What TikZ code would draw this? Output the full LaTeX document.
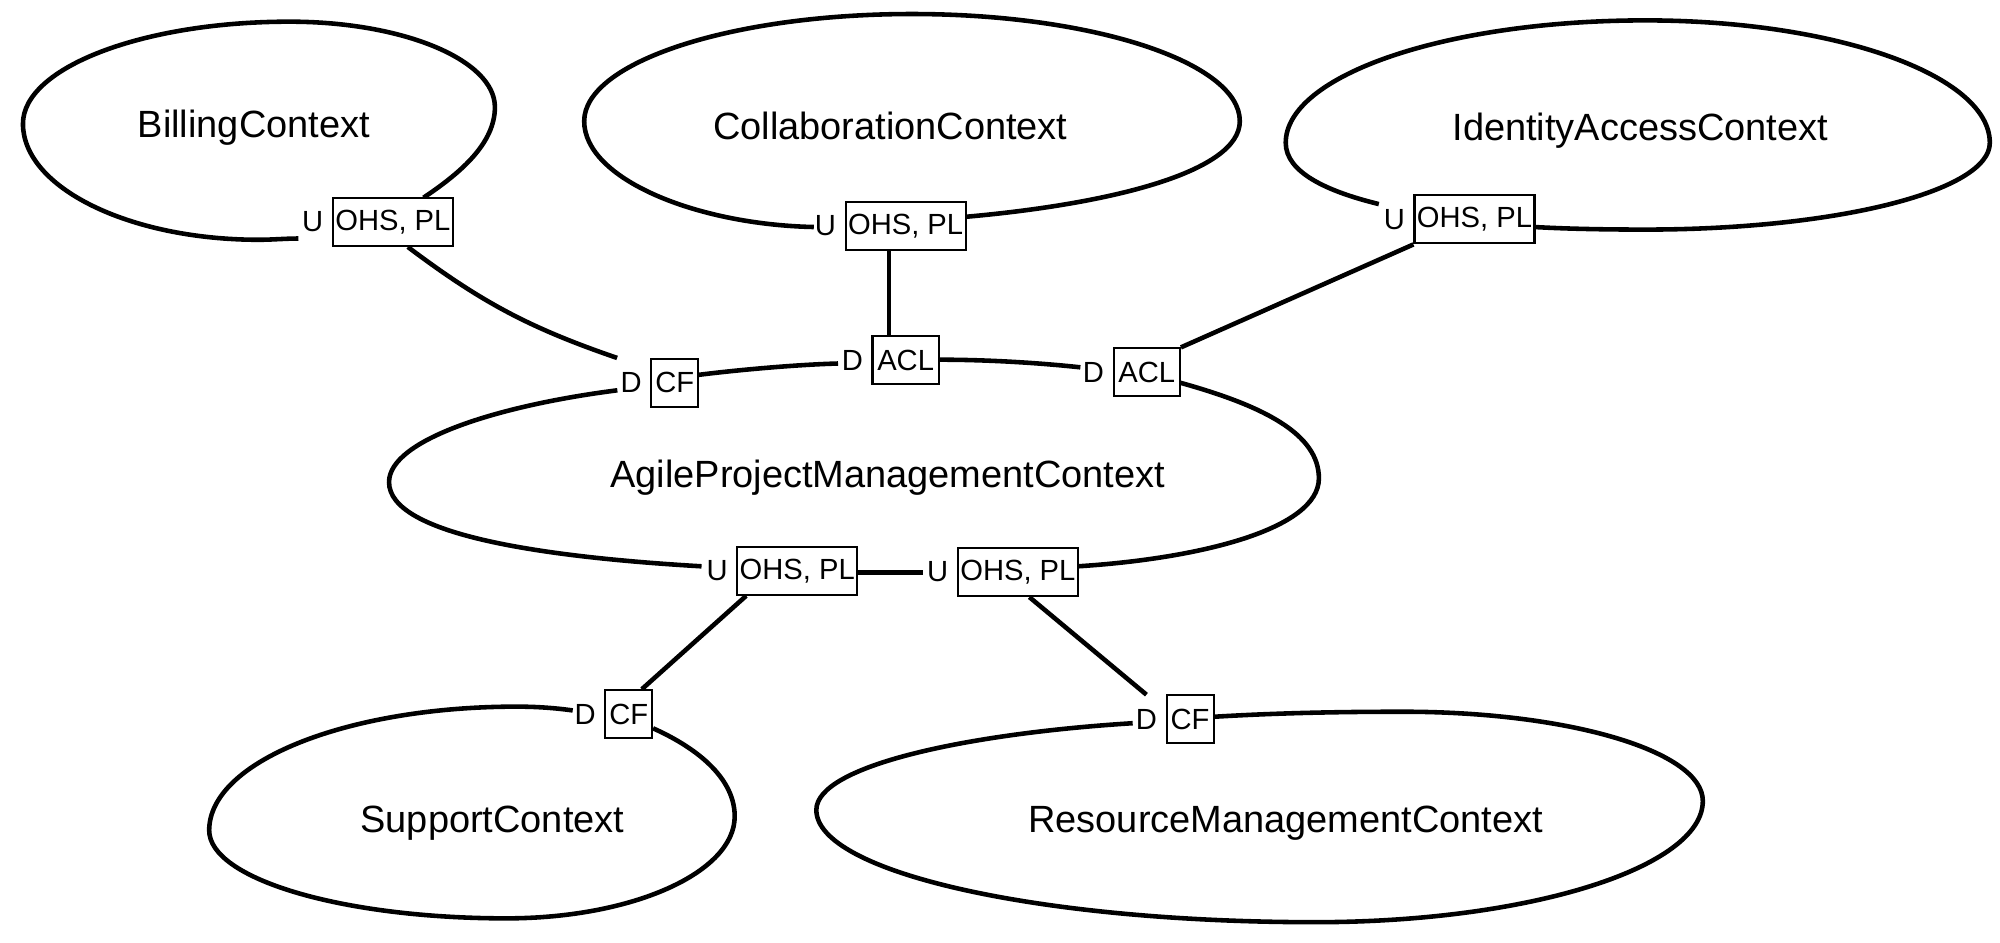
\documentclass[tikz,border=0pt]{standalone}
\usepackage{fontspec}
\setmainfont{Liberation Sans}
\usetikzlibrary{positioning}
\begin{document}
\begin{tikzpicture}[x=0.012755cm,y=-0.012755cm,
  ctx/.style={anchor=base,font=\fontsize{10.8}{13}\selectfont,inner sep=0pt},
  rel/.style={draw,line width=0.6pt,fill=white,font=\fontsize{8.3}{10}\selectfont,minimum height=0.48cm,inner xsep=0.6pt,inner ysep=0pt},
  side/.style={font=\fontsize{8.3}{10}\selectfont,minimum height=0.48cm,inner xsep=0.8pt,inner ysep=0pt},
  edge/.style={line width=1.3pt},
  outline/.style={line width=1.3pt}]
\useasboundingbox (0,0) rectangle (1568,739);

% context names
\node[ctx] (billing) at (199,108) {BillingContext};
\node[ctx] (collab) at (698,109) {CollaborationContext};
\node[ctx] (identity) at (1286,110) {IdentityAccessContext};
\node[ctx] (agile) at (696,382) {AgileProjectManagementContext};
\node[ctx] (support) at (386,653) {SupportContext};
\node[ctx] (resource) at (1008,653) {ResourceManagementContext};

% context outlines
\draw[outline] (332,155) .. controls (362,135) and (388,112) .. (388,84)
  .. controls (388,47) and (316,17) .. (227,17)
  .. controls (112,17) and (18,53) .. (18,97)
  .. controls (18,147) and (101,188) .. (203,188)
  .. controls (213,188) and (224,187) .. (234,187);
\draw[outline] (757,170) .. controls (870,160) and (972,135) .. (972,95)
  .. controls (972,49) and (857,11) .. (715,11)
  .. controls (573,11) and (458,49) .. (458,95)
  .. controls (458,140) and (545,176) .. (638,178);
\draw[outline] (1203,178) .. controls (1230,179.5) and (1260,180) .. (1290,180)
  .. controls (1439,180) and (1560,150) .. (1560,112)
  .. controls (1560,59) and (1439,16) .. (1290,16)
  .. controls (1134,16) and (1008,59) .. (1008,112)
  .. controls (1008,135) and (1040,150) .. (1081,160);
\draw[outline] (550,444) .. controls (430,437) and (305,420) .. (305,378)
  .. controls (305,345) and (390,318) .. (484,306);
\draw[outline] (547,294) .. controls (570,291) and (620,286) .. (657,285);
\draw[outline] (736,282) .. controls (770,282) and (810,284) .. (847,288);
\draw[outline] (925,300) .. controls (990,318) and (1034,340) .. (1034,375)
  .. controls (1034,415) and (940,438) .. (845,444);
\draw[outline] (672,449) -- (724,449);
\draw[outline] (512,571) .. controls (550,588) and (576,612) .. (576,640)
  .. controls (576,684) and (496,720) .. (397,720)
  .. controls (268,720) and (164,689) .. (164,651)
  .. controls (164,597) and (272,554) .. (405,554)
  .. controls (420,554) and (435,555) .. (449,557);
\draw[outline] (951,562) .. controls (1000,559) and (1050,558) .. (1100,558)
  .. controls (1230,558) and (1335,589) .. (1335,628)
  .. controls (1335,680) and (1199,723) .. (1031,723)
  .. controls (815,723) and (640,684) .. (640,635)
  .. controls (640,600) and (760,575) .. (888,567);

% relationship boxes
\node[rel, minimum width=1.2cm] (bB) at (308,174) {OHS, PL};
\node[side, left=0.5mm of bB] (bBu) {U};
\node[rel, minimum width=1.2cm] (bC) at (710,177) {OHS, PL};
\node[side, left=0.5mm of bC] (bCu) {U};
\node[rel, minimum width=1.2cm] (bI) at (1156,172) {OHS, PL};
\node[side, left=0.5mm of bI] (bIu) {U};
\node[rel, minimum width=0.47cm] (aCF) at (529,300) {CF};
\node[side, left=0.5mm of aCF] (aCFd) {D};
\node[rel, minimum width=0.663cm] (aA1) at (710,282.5) {ACL};
\node[side, left=0.5mm of aA1] (aA1d) {D};
\node[rel, minimum width=0.663cm] (aA2) at (899,292) {ACL};
\node[side, left=0.5mm of aA2] (aA2d) {D};
\node[rel, minimum width=1.2cm] (aO1) at (625,447.5) {OHS, PL};
\node[side, left=0.5mm of aO1] (aO1u) {U};
\node[rel, minimum width=1.2cm] (aO2) at (798,448.5) {OHS, PL};
\node[side, left=0.5mm of aO2] (aO2u) {U};
\node[rel, minimum width=0.47cm] (sCF) at (493,560) {CF};
\node[side, left=0.5mm of sCF] (sCFd) {D};
\node[rel, minimum width=0.47cm] (rCF) at (933,564) {CF};
\node[side, left=0.5mm of rCF] (rCFd) {D};

% relationships
\draw[edge] ([xshift=0.15cm]bB.south) to[bend right=9] (aCFd.north west);
\draw[edge] ([xshift=-0.166cm]bC.south) -- ([xshift=-0.166cm]aA1.north);
\draw[edge] (bI.south west) -- (aA2.north east);
\draw[edge] ([xshift=0.1cm]aO1.south west) -- ([xshift=0.13cm]sCF.north);
\draw[edge] ([xshift=0.115cm]aO2.south) -- (rCFd.north);
\end{tikzpicture}
\end{document}
